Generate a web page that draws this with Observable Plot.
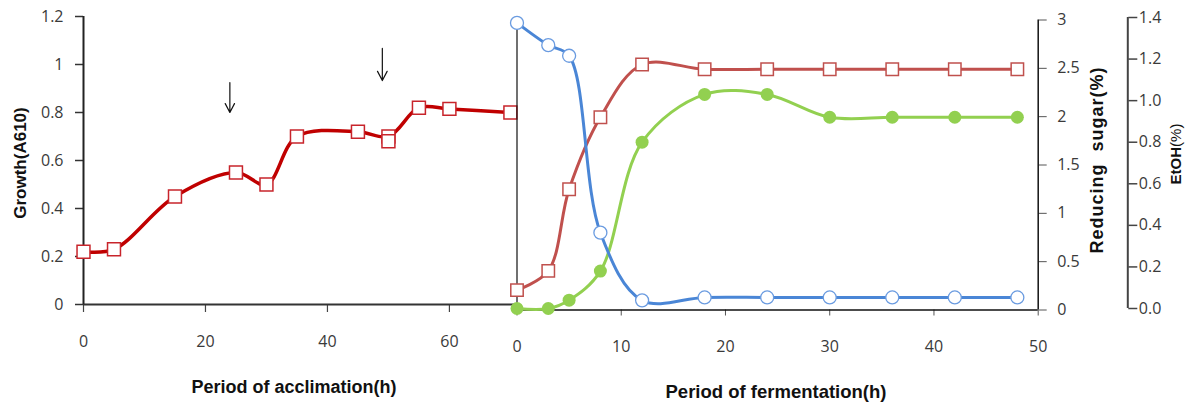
<!DOCTYPE html>
<html><head><meta charset="utf-8">
<script src="https://cdn.jsdelivr.net/npm/d3@7"></script>
<script src="https://cdn.jsdelivr.net/npm/@observablehq/plot@0.6"></script>
<style>
body{margin:0;background:#fff;}
#chart{position:relative;width:1187px;height:406px;overflow:hidden;background:#fff;}
#chart svg{position:absolute;left:0;top:0;}
.t{position:absolute;font-family:"Liberation Sans",Arial,sans-serif;font-weight:bold;color:#111;white-space:pre;transform:translate(-50%,-50%);line-height:1;}
.r{transform:translate(-50%,-50%) rotate(-90deg);}
</style></head><body><div id="chart"></div>
<script>
// ---- data ----
const acclimHours = [0, 5, 15, 25, 30, 35, 45, 50, 55, 60, 70];
const acclimGrowth = [0.22, 0.23, 0.45, 0.55, 0.50, 0.70, 0.72, 0.70, 0.82, 0.815, 0.80];
const extraHours = [50];
const extraGrowth = [0.68];
const arrowHours = [24, 49];
const arrowTop = [0.925, 1.067];
const arrowBottom = [0.80, 0.933];

const fermHours = [0, 3, 5, 8, 12, 18, 24, 30, 36, 42, 48];
const fermGrowth = [0.06, 0.14, 0.48, 0.78, 1.0, 0.98, 0.98, 0.98, 0.98, 0.98, 0.98];
const fermSugar = [2.97, 2.74, 2.63, 0.80, 0.10, 0.13, 0.13, 0.13, 0.13, 0.13, 0.13];
const fermEtOH = [0, 0, 0.04, 0.18, 0.80, 1.03, 1.03, 0.92, 0.92, 0.92, 0.92];

const growthTicks = [0, 0.2, 0.4, 0.6, 0.8, 1, 1.2];
const acclimTicks = [0, 20, 40, 60];
const fermTicks = [0, 10, 20, 30, 40, 50];
const sugarTicks = [0, 0.5, 1, 1.5, 2, 2.5, 3];
const etohTicks = [0, 0.2, 0.4, 0.6, 0.8, 1.0, 1.2, 1.4];

// ---- tables ----
const acclim = acclimHours.map((h, i) => ({h, g: acclimGrowth[i]}));
const extra = extraHours.map((h, i) => ({h, g: extraGrowth[i]}));
const arrows = arrowHours.map((h, i) => ({h, y1: arrowTop[i], y2: arrowBottom[i]}));
const ferm = fermHours.map((h, i) => ({h, g: fermGrowth[i], s: fermSugar[i], e: fermEtOH[i]}));

const W = 1187, H = 406;
const chart = document.getElementById("chart");
const FONT = "'Open Sans', sans-serif";
const baseStyle = {background: "transparent", overflow: "visible", fontFamily: FONT, fontSize: "16px", color: "#3a3a3a"};
const txt = {fontSize: 16, fontFamily: FONT, fill: "#3a3a3a"};
function layer(opts) {
  const svg = Plot.plot({width: W, height: H, style: baseStyle, ...opts});
  chart.append(svg);
}

// geometry of the panels
const L = {left: 83, right: 516, top: 16, bottom: 304};
const R = {left: 516.5, right: 1037.7, top: 19.5, bottom: 309.5};
const E = {axis: 1127.3, top: 17, bottom: 308};
const fermMax = 50;
const etohXMax = fermMax * (E.axis - R.left) / (R.right - R.left);

const leftM = {marginLeft: L.left, marginRight: W - L.right, marginTop: L.top, marginBottom: H - L.bottom};
const rightX = {marginLeft: R.left, marginRight: W - R.right};

// left panel: acclimation
layer({
  ...leftM,
  x: {domain: [0, 71]}, y: {domain: [0, 1.2]},
  marks: [
    Plot.axisY({ticks: growthTicks, tickSize: 8, tickPadding: 12, tickFormat: d => String(d), label: null, stroke: "#333", strokeWidth: 1.5, ...txt}),
    Plot.axisX({ticks: acclimTicks, tickSize: 8, tickPadding: 23, tickFormat: d => String(d), label: null, stroke: "#444", strokeWidth: 1.2, ...txt}),
    Plot.ruleY([0], {stroke: "#333", strokeWidth: 2}),
    Plot.ruleX([0], {stroke: "#222", strokeWidth: 2}),
    Plot.arrow(arrows, {x1: "h", x2: "h", y1: "y1", y2: "y2", stroke: "#111", strokeWidth: 1.2, headLength: 13, headAngle: 55}),
    Plot.line(acclim, {x: "h", y: "g", curve: "catmull-rom", stroke: "#C00000", strokeWidth: 3.5}),
    Plot.dot(acclim, {x: "h", y: "g", symbol: "square", r: 7.3, fill: "white", stroke: "#C8242B", strokeWidth: 1.5}),
    Plot.dot(extra, {x: "h", y: "g", symbol: "square", r: 7.3, fill: "white", stroke: "#C8242B", strokeWidth: 1.5})
  ]
});

// right panel axes (fermentation + reducing sugar)
layer({
  ...rightX, marginTop: R.top, marginBottom: H - R.bottom,
  x: {domain: [0, fermMax]}, y: {domain: [0, 3]},
  marks: [
    Plot.axisX({ticks: fermTicks, tickSize: 6, tickPadding: 25, tickFormat: d => String(d), label: null, stroke: "#555", ...txt}),
    Plot.axisY({anchor: "right", ticks: sugarTicks, tickSize: 8, tickPadding: 11, tickFormat: d => String(d), label: null, stroke: "#555", ...txt}),
    Plot.ruleY([0], {stroke: "#111", strokeWidth: 1.5}),
    Plot.ruleX([0], {stroke: "#111", strokeWidth: 1.2}),
    Plot.ruleX([fermMax], {stroke: "#111", strokeWidth: 1.5})
  ]
});

// EtOH axis
layer({
  marginLeft: R.left, marginRight: W - E.axis, marginTop: E.top, marginBottom: H - E.bottom,
  x: {domain: [0, etohXMax], axis: null}, y: {domain: [0, 1.4]},
  marks: [
    Plot.axisY({anchor: "right", ticks: etohTicks, tickSize: 9, tickPadding: 2, tickFormat: d3.format(".1f"), label: null, stroke: "#444", strokeWidth: 1.5, ...txt}),
    Plot.ruleX([etohXMax], {stroke: "#444", strokeWidth: 2})
  ]
});

// growth during fermentation (red)
layer({
  ...rightX, marginTop: L.top, marginBottom: H - L.bottom,
  x: {domain: [0, fermMax], axis: null}, y: {domain: [0, 1.2], axis: null},
  marks: [
    Plot.line(ferm, {x: "h", y: "g", curve: "catmull-rom", stroke: "#C0504D", strokeWidth: 3}),
    Plot.dot(ferm, {x: "h", y: "g", symbol: "square", r: 7, fill: "white", stroke: "#C0504D", strokeWidth: 1.5})
  ]
});

// EtOH (green)
layer({
  marginLeft: R.left, marginRight: W - E.axis, marginTop: E.top, marginBottom: H - E.bottom,
  x: {domain: [0, etohXMax], axis: null}, y: {domain: [0, 1.4], axis: null},
  marks: [
    Plot.line(ferm, {x: "h", y: "e", curve: "catmull-rom", stroke: "#92D050", strokeWidth: 3}),
    Plot.dot(ferm, {x: "h", y: "e", r: 6.5, fill: "#92D050"})
  ]
});

// reducing sugar (blue)
layer({
  ...rightX, marginTop: R.top, marginBottom: H - R.bottom,
  x: {domain: [0, fermMax], axis: null}, y: {domain: [0, 3], axis: null},
  marks: [
    Plot.line(ferm, {x: "h", y: "s", curve: "catmull-rom", stroke: "#4A86D6", strokeWidth: 3}),
    Plot.dot(ferm, {x: "h", y: "s", r: 6.5, fill: "white", stroke: "#6A9BE0", strokeWidth: 1.3})
  ]
});

// titles
function title(text, x, y, size, rot, html, ls) {
  const d = document.createElement("div");
  d.className = "t" + (rot ? " r" : "");
  d.style.left = x + "px"; d.style.top = y + "px"; d.style.fontSize = size + "px";
  if (ls) d.style.letterSpacing = ls + "px";
  if (html) d.innerHTML = html; else d.textContent = text;
  chart.append(d);
}
title("Growth(A610)", 20, 163, 17, true);
title("Period of acclimation(h)", 294, 387, 18, false);
title("Period of fermentation(h)", 776, 392, 18.5, false);
title("Reducing  sugar(%)", 1097, 160, 18, true, null, 1);
title("", 1175, 154, 15, true, 'EtOH<span style="font-weight:normal">(%)</span>');
</script></body></html>
